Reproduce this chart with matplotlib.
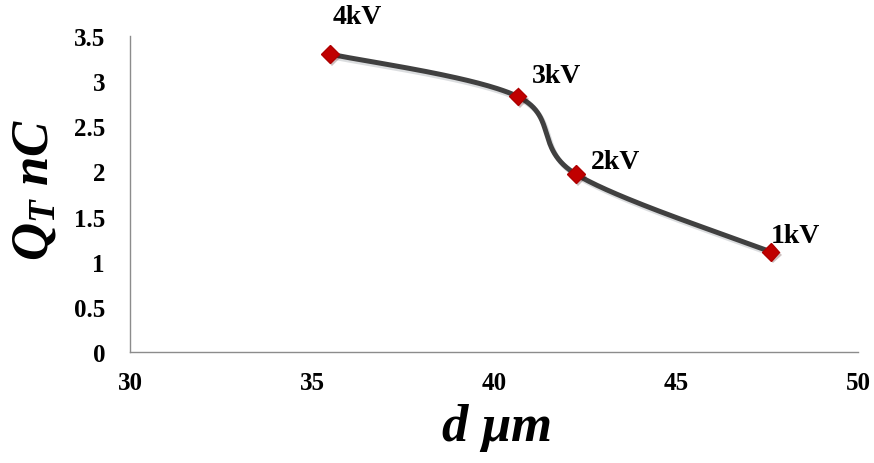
import numpy as np
import matplotlib
matplotlib.use("Agg")
import matplotlib.pyplot as plt
import matplotlib.patheffects as pe

# Gap thickness vs. total charge for each applied voltage
distance_um = [35.5, 40.65, 42.25, 47.6]
charge_nC = [3.30, 2.83, 1.97, 1.11]
voltage_labels = ["4kV", "3kV", "2kV", "1kV"]

x_ticks = [30, 35, 40, 45, 50]
y_ticks = [0, 0.5, 1, 1.5, 2, 2.5, 3, 3.5]
y_tick_labels = ["0", "0.5", "1", "1.5", "2", "2.5", "3", "3.5"]

plt.rcParams["font.family"] = ["Liberation Serif", "DejaVu Serif"]
plt.rcParams["mathtext.fontset"] = "custom"
plt.rcParams["mathtext.rm"] = "Liberation Serif:bold:italic"
plt.rcParams["mathtext.it"] = "Liberation Serif:bold:italic"
plt.rcParams["mathtext.bf"] = "Liberation Serif:bold:italic"

W, H = 874, 464
fig = plt.figure(figsize=(W / 100, H / 100), dpi=100)
ax = fig.add_axes([130 / W, 1 - 353 / H, 728 / W, 316 / H])
ax.set_xlim(30, 50)
ax.set_ylim(0, 3.5)

for side in ("top", "right"):
    ax.spines[side].set_visible(False)
for side in ("left", "bottom"):
    ax.spines[side].set_color("#8c8c8c")
    ax.spines[side].set_linewidth(1.0)

ax.set_xticks(x_ticks)
ax.set_xticklabels([str(v) for v in x_ticks])
ax.set_yticks(y_ticks)
ax.set_yticklabels(y_tick_labels)
ax.tick_params(axis="both", length=0, labelsize=18)
ax.tick_params(axis="y", pad=18)
ax.tick_params(axis="x", pad=14)
for lab in ax.get_xticklabels() + ax.get_yticklabels():
    lab.set_fontweight("bold")


def smooth_curve(xs, ys, n=60):
    """Catmull-Rom style cubic Bezier smoothing computed in display space."""
    pts = ax.transData.transform(np.column_stack([xs, ys]))
    m = len(pts)
    out = []
    for i in range(m - 1):
        p0 = pts[max(i - 1, 0)]
        p1 = pts[i]
        p2 = pts[i + 1]
        p3 = pts[min(i + 2, m - 1)]
        c1 = p1 + (p2 - p0) / 6.0
        c2 = p2 - (p3 - p1) / 6.0
        t = np.linspace(0, 1, n)[:, None]
        seg = ((1 - t) ** 3) * p1 + 3 * ((1 - t) ** 2) * t * c1 \
            + 3 * (1 - t) * t ** 2 * c2 + t ** 3 * p2
        out.append(seg if i == 0 else seg[1:])
    curve = np.vstack(out)
    return ax.transData.inverted().transform(curve)


curve = smooth_curve(distance_um, charge_nC)
shadow = [pe.SimpleLineShadow(offset=(1.5, -2), shadow_color="#9aa0a6", alpha=0.35),
          pe.Normal()]
ax.plot(curve[:, 0], curve[:, 1], color="#404040", lw=3.6,
        solid_capstyle="round", path_effects=shadow, zorder=2)
ax.plot(distance_um, charge_nC, linestyle="none", marker="D", markersize=9,
        markerfacecolor="#c00000", markeredgecolor="#b00000", zorder=3,
        path_effects=[pe.SimplePatchShadow(offset=(1.5, -2), alpha=0.25), pe.Normal()])

label_offsets = [(2, 27), (10, 15), (11, 9), (0, 12)]
for xv, yv, txt, off in zip(distance_um, charge_nC, voltage_labels, label_offsets):
    ax.annotate(txt, (xv, yv), xytext=off, textcoords="offset points",
                ha="left", va="center", fontsize=20, fontweight="bold")

fig.text(496 / W, 1 - 428 / H, r"$d\ \mu m$", fontsize=38,
         ha="center", va="center")
fig.text(34 / W, 1 - 190 / H, r"$Q_T\ nC$", fontsize=38,
         ha="center", va="center", rotation=90)

fig.savefig("out.png", dpi=100, facecolor="white")
